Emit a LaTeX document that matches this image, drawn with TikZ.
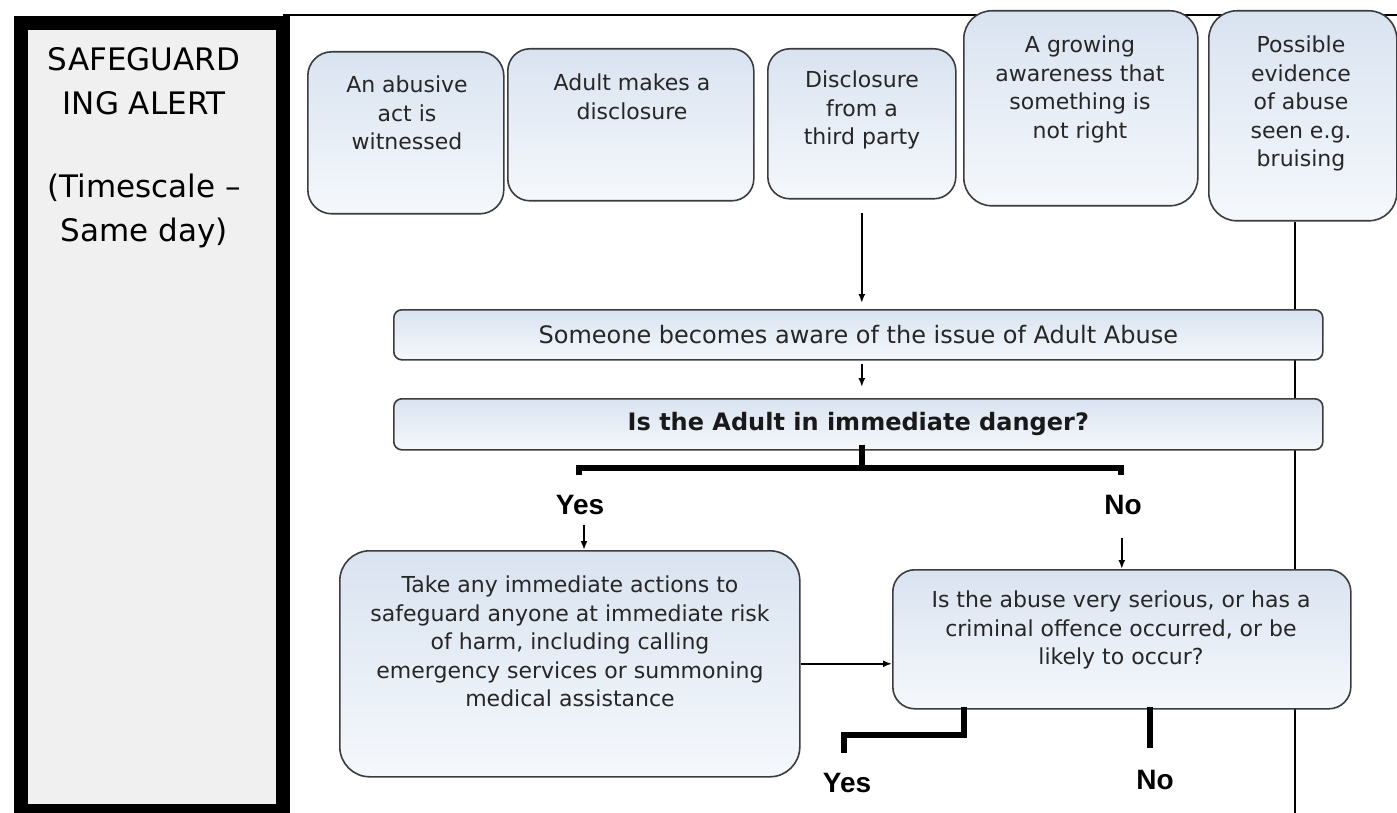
\documentclass[tikz,border=0pt]{standalone}
\usepackage{fontspec}
\setmainfont{DejaVu Sans}
\newfontfamily\arialfont{Liberation Sans}
\usetikzlibrary{arrows.meta,calc}
\definecolor{boxtop}{HTML}{D9E3F0}
\definecolor{boxbot}{HTML}{F5F8FC}
\definecolor{edge}{HTML}{3C3C3C}
\definecolor{panel}{HTML}{F0F0F0}
\begin{document}
\begin{tikzpicture}[x=1pt,y=-1pt,
  tbox/.style={draw=edge,line width=1.6pt,top color=boxtop,bottom color=boxbot,inner sep=0pt,anchor=north west},
  txt/.style={font=\fontsize{22}{28.5}\selectfont,align=center,inner sep=0pt,anchor=north,text=black!85},
  con/.style={line width=1.8pt,-{Latex[length=9pt,width=7pt]}},
  heavy/.style={line width=6pt},
  yn/.style={font=\arialfont\bfseries\fontsize{28}{30}\selectfont,inner sep=0pt}]
\useasboundingbox (0,0) rectangle (1397,813);
\fill[white] (0,0) rectangle (1397,813);

% guide lines behind boxes
\coordinate (tl) at (283,15);
\coordinate (tr) at (1397,15);
\draw[line width=2pt] (tl) -- (tr);

% left panel
\node[draw=black,line width=14pt,fill=panel,minimum width=262pt,minimum height=788pt,anchor=north west,inner sep=0pt] (frame) at (14,16) {};
\node[font=\fontsize{31}{44}\selectfont,align=center,inner sep=0pt,anchor=north] (alert) at (144,47)
  {SAFEGUARD\\ING ALERT\\[39pt](Timescale –\\Same day)};

% top boxes
\node[tbox,rounded corners=24pt,minimum width=196pt,minimum height=162pt] (b1) at (307,51) {};
\node[tbox,rounded corners=22pt,minimum width=246pt,minimum height=152pt] (b2) at (507,48) {};
\node[tbox,rounded corners=22pt,minimum width=188pt,minimum height=150pt] (b3) at (767,48) {};
\node[tbox,rounded corners=28pt,minimum width=234pt,minimum height=195pt] (b4) at (963,10) {};
\node[tbox,rounded corners=28pt,minimum width=188pt,minimum height=210pt] (b5) at (1208,10) {};

\coordinate (vb) at (1295,813);
\draw[line width=2pt] (vb |- b5.south) -- (vb);

\node[txt] (t1) at (407,76) {An abusive\\act is\\witnessed};
\node[txt] (t2) at (632,74) {Adult makes a\\disclosure};
\node[txt] (t3) at (862,71) {Disclosure\\from a\\third party};
\node[txt] (t4) at (1080,36) {A growing\\awareness that\\something is\\not right};
\node[txt] (t5) at (1301,36) {Possible\\evidence\\of abuse\\seen e.g.\\bruising};

% middle boxes
\node[tbox,rounded corners=8pt,minimum width=929pt,minimum height=50pt,font=\fontsize{24}{28}\selectfont,text=black!85] (b6) at (393,309) {Someone becomes aware of the issue of Adult Abuse};
\node[tbox,rounded corners=8pt,minimum width=929pt,minimum height=51pt,font=\fontsize{24}{28}\selectfont\bfseries,text=black!90] (b7) at (393,398) {Is the Adult in immediate danger?};

\draw[con] ($(b3.south)+(0,13)$) -- ($(b3.south |- b6.north)+(0,-6)$);
\draw[con] ($(b3.south |- b6.south)+(0,3)$) -- ($(b3.south |- b7.north)+(0,-11)$);

% split
\coordinate (jL) at (579,468);
\coordinate (jR) at (1121,468);
\draw[heavy] ($(b3.south |- b7.south)+(0,-6)$) -- (b3.south |- jL);
\draw[heavy] ($(jL)+(0,7)$) -- (jL) -- (jR) -- ($(jR)+(0,7)$);

\node[yn] (yes1) at (580,505) {Yes};
\node[yn] (no1) at (1123,505) {No};

% lower boxes
\node[tbox,rounded corners=30pt,minimum width=460pt,minimum height=226pt] (b8) at (339,550) {};
\node[tbox,rounded corners=22pt,minimum width=458pt,minimum height=139pt] (b9) at (892,569) {};
\node[txt] (t8) at (570,576) {Take any immediate actions to\\safeguard anyone at immediate risk\\of harm, including calling\\emergency services or summoning\\medical assistance};
\node[txt] (t9) at (1121,591) {Is the abuse very serious, or has a\\criminal offence occurred, or be\\likely to occur?};

\coordinate (ya) at ($(yes1.south)+(4,10)$);
\draw[con] (ya) -- (ya |- b8.north);
\coordinate (na) at ($(b9.north)+(0,-31)$);
\draw[con] (na) -- (b9.north);
\draw[con] (b8.east) -- (b8.east -| b9.west);

% bottom branches
\node[yn] (yes2) at (847,783) {Yes};
\node[yn] (no2) at (1155,780) {No};
\coordinate (yend) at (844,753);
\draw[heavy] ($(b9.south west)+(72,-3)$) |- ($(yend)+(0,-18)$) -- (yend);
\coordinate (nend) at (1150,748);
\draw[heavy] ($(nend |- b9.south)+(0,-3)$) -- (nend);
\end{tikzpicture}
\end{document}
